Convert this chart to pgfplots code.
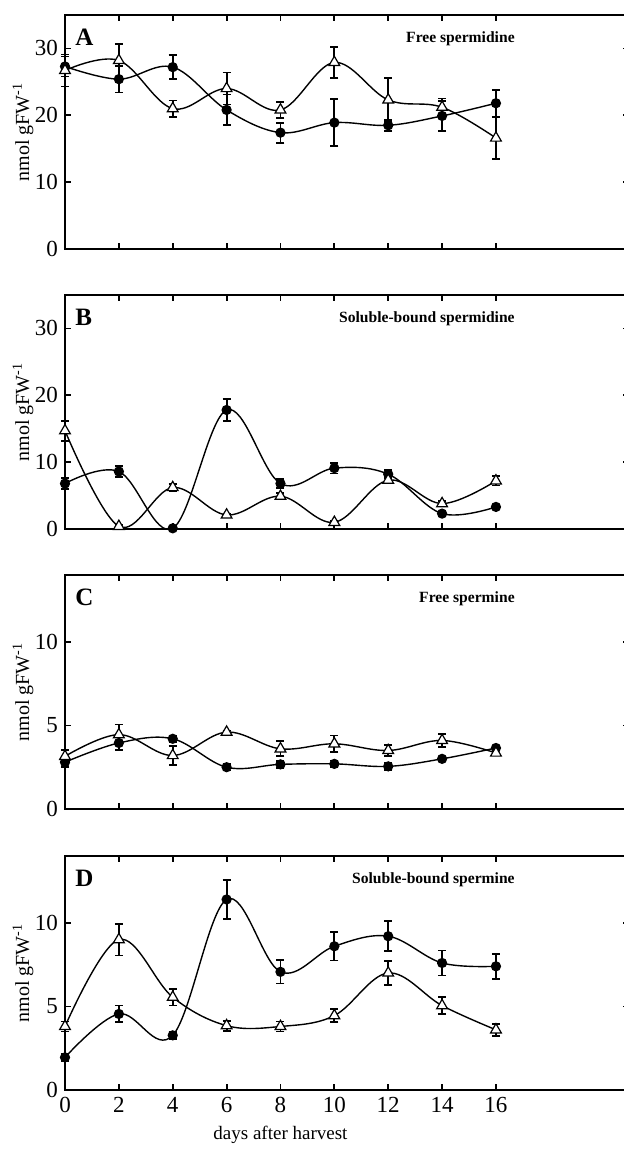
\documentclass[border=0pt]{standalone}
\usepackage{fontspec}
\setmainfont{Liberation Serif}
\usepackage{pgfplots}
\pgfplotsset{compat=1.18}

\pgfplotsset{
  panel/.style={
    scale only axis, width=282pt, height=117pt,
    xmin=0, xmax=20.94, ymin=0,
    xtick={0,2,...,16},
    tick align=inside, major tick length=3pt,
    axis line style={line width=1.1pt},
    every tick/.style={black, line width=0.9pt},
    tick label style={font=\fontsize{11.5}{13}\selectfont},
    /pgf/number format/assume math mode=true,
    ylabel={nmol gFW\textsuperscript{-1}},
    ylabel style={font=\fontsize{10}{12}\selectfont, at={(axis description cs:-0.0745,0.5)}, anchor=center},
    clip=false,
  },
  nolab/.style={xticklabels={,,,,,,,,,}},
  errs/.style={
    error bars/.cd, y dir=both, y explicit,
    error bar style={line width=0.9pt, black},
    error mark options={rotate=90, mark size=2pt, line width=0.9pt, black},
  },
  circ/.style={black, line width=0.7pt, smooth, tension=0.6, mark=*, mark size=2.2pt,
    mark options={fill=black, solid}, errs},
  tri/.style={black, line width=0.7pt, smooth, tension=0.6, mark=triangle*, mark size=3.1pt,
    mark options={fill=white, draw=black, line width=0.6pt, solid}, errs},
}
\newcommand{\letter}[1]{\node[anchor=north west, inner sep=0pt, font=\fontsize{12.5}{14}\selectfont\bfseries] at (rel axis cs:0.0177,0.94) {#1};}
\newcommand{\ptitle}[1]{\node[anchor=north east, inner sep=0pt, font=\fontsize{7.8}{9}\selectfont\bfseries] at (rel axis cs:0.798,0.93) {#1};}

\begin{document}
\begin{tikzpicture}

% A: free spermidine
\begin{axis}[panel, nolab, at={(32.5pt,450pt)}, anchor=south west, ymax=35, ytick={0,10,20,30}]
\addplot[circ] coordinates {(0,27.3) +- (0,1.5) (2,25.4) +- (0,2.0) (4,27.2) +- (0,1.8) (6,20.8) +- (0,2.3) (8,17.4) +- (0,1.5) (10,18.9) +- (0,3.5) (12,18.5) +- (0,0.8) (14,19.9) +- (0,2.2) (16,21.8) +- (0,2.0)};
\addplot[tri] coordinates {(0,26.7) +- (0,2.4) (2,28.2) +- (0,2.5) (4,21.0) +- (0,1.2) (6,24.0) +- (0,2.4) (8,20.8) +- (0,1.2) (10,27.9) +- (0,2.3) (12,22.3) +- (0,3.3) (14,21.2) +- (0,1.3) (16,16.6) +- (0,3.1)};
\letter{A}
\ptitle{Free spermidine}
\end{axis}

% B: soluble-bound spermidine
\begin{axis}[panel, nolab, at={(32.5pt,310pt)}, anchor=south west, ymax=35, ytick={0,10,20,30}]
\addplot[circ] coordinates {(0,6.8) +- (0,0.8) (2,8.6) +- (0,0.8) (4,0.1) +- (0,0.1) (6,17.8) +- (0,1.7) (8,6.8) +- (0,0.7) (10,9.1) +- (0,0.8) (12,8.2) +- (0,0.6) (14,2.3) +- (0,0.3) (16,3.3) +- (0,0.3)};
\addplot[tri] coordinates {(0,14.7) +- (0,1.5) (2,0.4) +- (0,0.2) (4,6.2) +- (0,0.5) (6,2.1) +- (0,0.2) (8,4.9) +- (0,0.5) (10,1.0) +- (0,0.2) (12,7.3) +- (0,0.5) (14,3.8) +- (0,0.4) (16,7.2) +- (0,0.7)};
\letter{B}
\ptitle{Soluble-bound spermidine}
\end{axis}

% C: free spermine
\begin{axis}[panel, nolab, at={(32.5pt,170pt)}, anchor=south west, ymax=14, ytick={0,5,10}]
\addplot[circ] coordinates {(0,2.8) +- (0,0.3) (2,3.95) +- (0,0.4) (4,4.2) +- (0,0.2) (6,2.5) +- (0,0.2) (8,2.67) +- (0,0.2) (10,2.7) +- (0,0.2) (12,2.55) +- (0,0.2) (14,3.0) +- (0,0.1) (16,3.65) +- (0,0.15)};
\addplot[tri] coordinates {(0,3.15) +- (0,0.4) (2,4.45) +- (0,0.6) (4,3.2) +- (0,0.55) (6,4.6) +- (0,0.1) (8,3.6) +- (0,0.45) (10,3.9) +- (0,0.5) (12,3.5) +- (0,0.35) (14,4.1) +- (0,0.4) (16,3.35) +- (0,0.15)};
\letter{C}
\ptitle{Free spermine}
\end{axis}

% D: soluble-bound spermine
\begin{axis}[panel, at={(32.5pt,29.5pt)}, anchor=south west, ymax=14, ytick={0,5,10}]
\addplot[circ] coordinates {(0,1.95) +- (0,0.2) (2,4.55) +- (0,0.5) (4,3.27) +- (0,0.2) (6,11.4) +- (0,1.15) (8,7.07) +- (0,0.7) (10,8.6) +- (0,0.85) (12,9.2) +- (0,0.9) (14,7.6) +- (0,0.75) (16,7.4) +- (0,0.75)};
\addplot[tri] coordinates {(0,3.8) +- (0,0.3) (2,9.0) +- (0,0.95) (4,5.55) +- (0,0.5) (6,3.85) +- (0,0.3) (8,3.8) +- (0,0.3) (10,4.45) +- (0,0.4) (12,7.0) +- (0,0.7) (14,5.05) +- (0,0.5) (16,3.6) +- (0,0.35)};
\letter{D}
\ptitle{Soluble-bound spermine}
\node[font=\fontsize{9.5}{11}\selectfont] at (axis cs:8,-2.7) {days after harvest};
\end{axis}

\pgfresetboundingbox
\path[use as bounding box] (0,0) rectangle (312pt,574.5pt);
\end{tikzpicture}
\end{document}
